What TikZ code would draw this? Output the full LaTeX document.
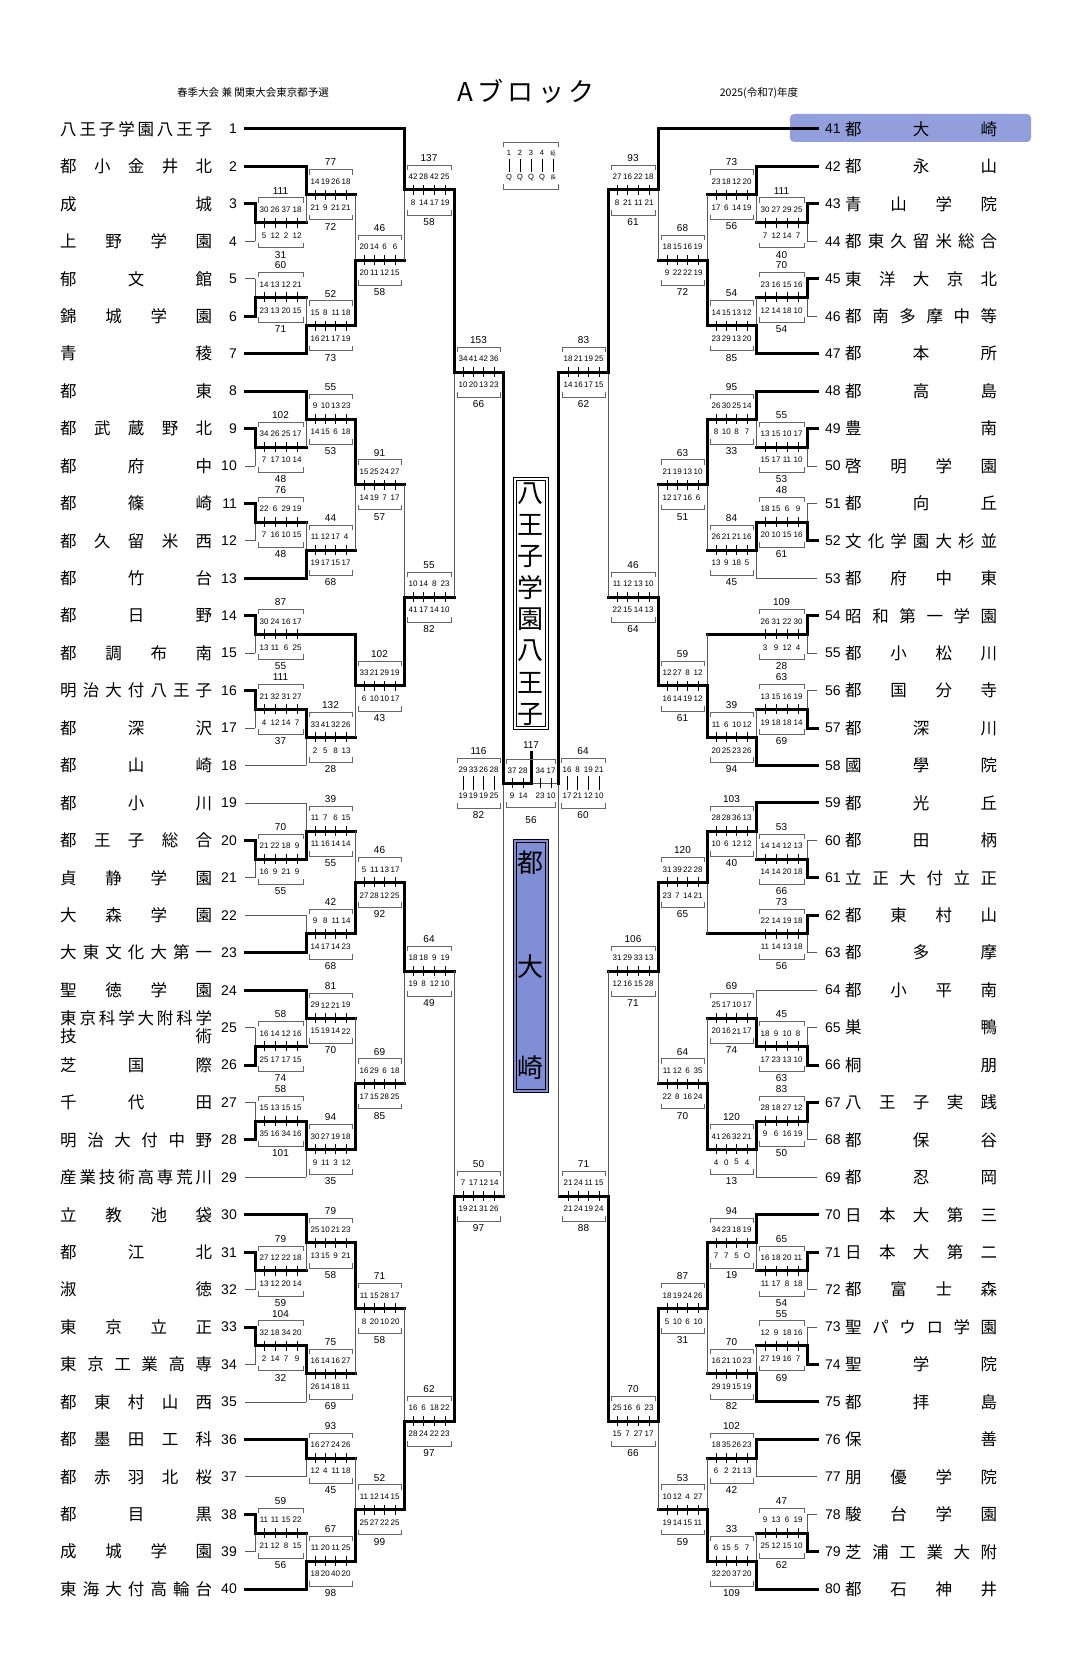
\documentclass[tikz,border=0pt]{standalone}
\usepackage{fontspec}
\setmainfont{Liberation Sans}
\newfontfamily\jp{Noto Sans CJK JP}
\usetikzlibrary{positioning}

\definecolor{hlblue}{RGB}{128,142,214}

% column offsets from the centre line
\def\dx#1{\ifcase#1\or276\or225\or176\or127\or77\or28\or0\fi}
% spread the characters of a name over its box
\def\spreadname#1{\if\relax\detokenize{#1}\relax\else\sprA#1\sprEnd\fi}
\def\sprA#1#2\sprEnd{#1\ifx\relax#2\relax\else\hfil\sprA#2\sprEnd\fi}
% inning figures: single figures larger
\def\inn#1{\innA#1\relax\relax\innEnd}
\def\innA#1#2#3\innEnd{\ifx\relax#2{\fontsize{8}{8}\selectfont#1}\else{\fontsize{4.8}{4.8}\selectfont#1#2}\fi}

% match: name, side, round, next round, upper, lower, mid
\newcommand\mt[7]{%
  \def\mS{#2}\def\mR{#3}\def\mRn{#4}%
  \edef\mYa{\csname y#5\endcsname}\edef\mYb{\csname y#6\endcsname}%
  \if\relax\detokenize{#7}\relax\pgfmathsetmacro\mYm{(\mYa+\mYb)/2}\else\def\mYm{#7}\fi
  \expandafter\xdef\csname y#1\endcsname{\mYm}}
% scores: totals and innings
\newcommand\scr[4]{%
  \pgfmathtruncatemacro\mRb{\mR+1}%
  \pgfmathsetmacro\xa{531-(\mS)*(\dx{\mR})}%
  \pgfmathsetmacro\xn{531-(\mS)*(\dx{\mRn})}%
  \pgfmathsetmacro\xb{531-(\mS)*(\dx{\mRb})}%
  \ifnum#1>#2 \let\yw\mYa\else\let\yw\mYb\fi
  \draw[lose] (\xa,\mYa) -- (\xa,\mYb);
  \draw[win] (\xa,\yw) -- (\xa,\mYm) -- (\xn,\mYm);
  \scorebox{#1}{#2}{#3}{#4}{1}}
\newcommand\scorebox[5]{%
  \pgfmathsetmacro\cx{(\xa+\xb)/2}%
  \pgfmathsetmacro\hw{abs(\xb-\xa)/2-3}%
  \pgfmathsetmacro\isp{(2*\hw-12)/3}%
  \draw[brk] (\cx-\hw,\mYm-20) -- (\cx-\hw,\mYm-25) -- (\cx+\hw,\mYm-25) -- (\cx+\hw,\mYm-20);
  \draw[brk] (\cx-\hw,\mYm+20) -- (\cx-\hw,\mYm+25) -- (\cx+\hw,\mYm+25) -- (\cx+\hw,\mYm+20);
  \node[tot] at (\cx,\mYm-32) {#1};
  \node[tot] at (\cx,\mYm+32) {#2};
  \foreach \v [count=\k] in {#3} {
    \pgfmathsetmacro\ix{\cx+(\k-2.5)*\isp}
    \node[inn] at (\ix,\mYm-13) {\inn{\v}};
    \ifnum#5=1 \draw[tk] (\ix,\mYm-5) -- (\ix,\mYm+5);
    \else \draw[tk] (\ix,\mYm-7) -- (\ix,\mYm+7); \fi}
  \foreach \v [count=\k] in {#4} {
    \pgfmathsetmacro\ix{\cx+(\k-2.5)*\isp}
    \node[inn] at (\ix,\mYm+13) {\inn{\v}};}}
% team: side, number, round, style, name
\newcommand\tm[5]{%
  \pgfmathsetmacro\xa{531-(#1)*(\dx{#3})}%
  \pgfmathsetmacro\xe{531-(#1)*286}%
  \edef\ty{\csname yt#2\endcsname}%
  \draw[#4] (\xe,\ty) -- (\xa,\ty);
  \ifnum#1=1
    \node[num, anchor=east] at (237,\ty) {#2};
    \node[name, anchor=west] at (60,\ty) {\makebox[152pt][s]{\spreadname{#5}}};
  \else
    \node[num, anchor=west] at (825,\ty) {#2};
    \node[name, anchor=west] at (845,\ty) {\makebox[152pt][s]{\spreadname{#5}}};
  \fi}

\begin{document}
\begin{tikzpicture}[x=1pt, y=-1pt,
  win/.style={line width=3pt, line cap=rect},
  lose/.style={line width=0.8pt, draw=black!65},
  brk/.style={line width=0.7pt, draw=black!60},
  tk/.style={line width=0.8pt},
  tot/.style={font=\fontsize{10}{10}\selectfont, inner sep=0},
  inn/.style={inner sep=0},
  num/.style={font=\fontsize{14}{14}\selectfont, inner sep=0},
  name/.style={font=\jp\fontsize{16.5}{16.5}\selectfont, inner sep=0}
]
\useasboundingbox (0,0) rectangle (1083,1677);

% row positions
\foreach \i in {1,...,40} {
  \pgfmathsetmacro\tmp{129+37.44*(\i-1)}
  \expandafter\xdef\csname yt\i\endcsname{\tmp}
  \pgfmathtruncatemacro\j{\i+40}
  \expandafter\xdef\csname yt\j\endcsname{\tmp}}

% header
\node[font=\jp\fontsize{10.5}{10.5}\selectfont] at (253,93) {春季大会\ 兼\ 関東大会東京都予選};
\node[font=\jp\fontsize{26}{26}\selectfont] at (526,91) {A\,ブ\,ロ\,ッ\,ク};
\node[font=\jp\fontsize{10.5}{10.5}\selectfont] at (759,93) {2025(令和7)年度};

% legend
\draw[brk] (503,147) -- (503,142) -- (558,142) -- (558,147);
\draw[brk] (503,184) -- (503,189) -- (558,189) -- (558,184);
\foreach \lx/\lt/\lb in {509/1/Q, 520/2/Q, 531/3/Q, 542/4/Q} {
  \node[font=\fontsize{7.5}{7.5}\selectfont, inner sep=0] at (\lx,153) {\lt};
  \draw[tk] (\lx,159) -- (\lx,172);
  \node[font=\fontsize{7.5}{7.5}\selectfont, inner sep=0] at (\lx,178) {\lb};}
\node[font=\jp\fontsize{5.5}{5.5}\selectfont, inner sep=0] at (553,153) {延};
\draw[tk] (553,159) -- (553,172);
\node[font=\jp\fontsize{5.5}{5.5}\selectfont, inner sep=0] at (553,178) {長};

% highlight of 41
\fill[hlblue, rounded corners=4pt, opacity=0.85] (790,114) rectangle (1031,142);

% left side teams
\tm{1}{1}{4}{win}{八王子学園八王子}
\tm{1}{2}{2}{win}{都小金井北}
\tm{1}{3}{1}{win}{成城}
\tm{1}{4}{1}{lose}{上野学園}
\tm{1}{5}{1}{lose}{郁文館}
\tm{1}{6}{1}{win}{錦城学園}
\tm{1}{7}{2}{win}{青稜}
\tm{1}{8}{2}{win}{都東}
\tm{1}{9}{1}{win}{都武蔵野北}
\tm{1}{10}{1}{lose}{都府中}
\tm{1}{11}{1}{win}{都篠崎}
\tm{1}{12}{1}{lose}{都久留米西}
\tm{1}{13}{2}{win}{都竹台}
\tm{1}{14}{1}{win}{都日野}
\tm{1}{15}{1}{lose}{都調布南}
\tm{1}{16}{1}{win}{明治大付八王子}
\tm{1}{17}{1}{lose}{都深沢}
\tm{1}{18}{2}{lose}{都山崎}
\tm{1}{19}{2}{lose}{都小川}
\tm{1}{20}{1}{win}{都王子総合}
\tm{1}{21}{1}{lose}{貞静学園}
\tm{1}{22}{2}{lose}{大森学園}
\tm{1}{23}{2}{win}{大東文化大第一}
\tm{1}{24}{2}{win}{聖徳学園}
\tm{1}{25}{1}{lose}{}
\tm{1}{26}{1}{win}{芝国際}
\tm{1}{27}{1}{lose}{千代田}
\tm{1}{28}{1}{win}{明治大付中野}
\tm{1}{29}{2}{lose}{産業技術高専荒川}
\tm{1}{30}{2}{win}{立教池袋}
\tm{1}{31}{1}{win}{都江北}
\tm{1}{32}{1}{lose}{淑徳}
\tm{1}{33}{1}{win}{東京立正}
\tm{1}{34}{1}{lose}{東京工業高専}
\tm{1}{35}{2}{lose}{都東村山西}
\tm{1}{36}{2}{win}{都墨田工科}
\tm{1}{37}{2}{lose}{都赤羽北桜}
\tm{1}{38}{1}{win}{都目黒}
\tm{1}{39}{1}{lose}{成城学園}
\tm{1}{40}{2}{win}{東海大付高輪台}
\node[name, anchor=west] at (60,\csname yt25\endcsname-9) {\makebox[152pt][s]{\spreadname{東京科学大附科学}}};
\node[name, anchor=west] at (60,\csname yt25\endcsname+9) {\makebox[152pt][s]{\spreadname{技術}}};

% right side teams
\tm{-1}{41}{4}{win}{都大崎}
\tm{-1}{42}{2}{win}{都永山}
\tm{-1}{43}{1}{win}{青山学院}
\tm{-1}{44}{1}{lose}{都東久留米総合}
\tm{-1}{45}{1}{win}{東洋大京北}
\tm{-1}{46}{1}{lose}{都南多摩中等}
\tm{-1}{47}{2}{win}{都本所}
\tm{-1}{48}{2}{win}{都高島}
\tm{-1}{49}{1}{win}{豊南}
\tm{-1}{50}{1}{lose}{啓明学園}
\tm{-1}{51}{1}{lose}{都向丘}
\tm{-1}{52}{1}{win}{文化学園大杉並}
\tm{-1}{53}{2}{lose}{都府中東}
\tm{-1}{54}{1}{win}{昭和第一学園}
\tm{-1}{55}{1}{lose}{都小松川}
\tm{-1}{56}{1}{lose}{都国分寺}
\tm{-1}{57}{1}{win}{都深川}
\tm{-1}{58}{2}{win}{國學院}
\tm{-1}{59}{2}{win}{都光丘}
\tm{-1}{60}{1}{lose}{都田柄}
\tm{-1}{61}{1}{win}{立正大付立正}
\tm{-1}{62}{1}{win}{都東村山}
\tm{-1}{63}{1}{lose}{都多摩}
\tm{-1}{64}{2}{lose}{都小平南}
\tm{-1}{65}{1}{lose}{巣鴨}
\tm{-1}{66}{1}{win}{桐朋}
\tm{-1}{67}{1}{win}{八王子実践}
\tm{-1}{68}{1}{lose}{都保谷}
\tm{-1}{69}{2}{lose}{都忍岡}
\tm{-1}{70}{2}{win}{日本大第三}
\tm{-1}{71}{1}{win}{日本大第二}
\tm{-1}{72}{1}{lose}{都富士森}
\tm{-1}{73}{1}{lose}{聖パウロ学園}
\tm{-1}{74}{1}{win}{聖学院}
\tm{-1}{75}{2}{win}{都拝島}
\tm{-1}{76}{2}{win}{保善}
\tm{-1}{77}{2}{lose}{朋優学院}
\tm{-1}{78}{1}{lose}{駿台学園}
\tm{-1}{79}{1}{win}{芝浦工業大附}
\tm{-1}{80}{2}{win}{都石神井}

% left side matches
\mt{m1}{1}{1}{2}{t3}{t4}{}\scr{111}{31}{30,26,37,18}{5,12,2,12}
\mt{m2}{1}{2}{3}{t2}{m1}{}\scr{77}{72}{14,19,26,18}{21,9,21,21}
\mt{m3}{1}{1}{2}{t5}{t6}{}\scr{60}{71}{14,13,12,21}{23,13,20,15}
\mt{m4}{1}{2}{3}{m3}{t7}{}\scr{52}{73}{15,8,11,18}{16,21,17,19}
\mt{m5}{1}{3}{4}{m2}{m4}{}\scr{46}{58}{20,14,6,6}{20,11,12,15}
\mt{m6}{1}{4}{5}{t1}{m5}{190}\scr{137}{58}{42,28,42,25}{8,14,17,19}
\mt{m7}{1}{1}{2}{t9}{t10}{}\scr{102}{48}{34,26,25,17}{7,17,10,14}
\mt{m8}{1}{2}{3}{t8}{m7}{}\scr{55}{53}{9,10,13,23}{14,15,6,18}
\mt{m9}{1}{1}{2}{t11}{t12}{}\scr{76}{48}{22,6,29,19}{7,16,10,15}
\mt{m10}{1}{2}{3}{m9}{t13}{}\scr{44}{68}{11,12,17,4}{19,17,15,17}
\mt{m11}{1}{3}{4}{m8}{m10}{}\scr{91}{57}{15,25,24,27}{14,19,7,17}
\mt{m12}{1}{1}{3}{t14}{t15}{}\scr{87}{55}{30,24,16,17}{13,11,6,25}
\mt{m13}{1}{1}{2}{t16}{t17}{}\scr{111}{37}{21,32,31,27}{4,12,14,7}
\mt{m14}{1}{2}{3}{m13}{t18}{}\scr{132}{28}{33,41,32,26}{2,5,8,13}
\mt{m15}{1}{3}{4}{m12}{m14}{}\scr{102}{43}{33,21,29,19}{6,10,10,17}
\mt{m16}{1}{4}{5}{m11}{m15}{597}\scr{55}{82}{10,14,8,23}{41,17,14,10}
\mt{m17}{1}{5}{6}{m6}{m16}{372}\scr{153}{66}{34,41,42,36}{10,20,13,23}
\mt{m18}{1}{1}{2}{t20}{t21}{}\scr{70}{55}{21,22,18,9}{16,9,21,9}
\mt{m19}{1}{2}{3}{t19}{m18}{}\scr{39}{55}{11,7,6,15}{11,16,14,14}
\mt{m20}{1}{2}{3}{t22}{t23}{}\scr{42}{68}{9,8,11,14}{14,17,14,23}
\mt{m21}{1}{3}{4}{m19}{m20}{}\scr{46}{92}{5,11,13,17}{27,28,12,25}
\mt{m23}{1}{1}{2}{t25}{t26}{}\scr{58}{74}{16,14,12,16}{25,17,17,15}
\mt{m22}{1}{2}{3}{t24}{m23}{}\scr{81}{70}{29,12,21,19}{15,19,14,22}
\mt{m24}{1}{1}{2}{t27}{t28}{}\scr{58}{101}{15,13,15,15}{35,16,34,16}
\mt{m25}{1}{2}{3}{m24}{t29}{}\scr{94}{35}{30,27,19,18}{9,11,3,12}
\mt{m26}{1}{3}{4}{m22}{m25}{}\scr{69}{85}{16,29,6,18}{17,15,28,25}
\mt{m27}{1}{4}{5}{m21}{m26}{971}\scr{64}{49}{18,18,9,19}{19,8,12,10}
\mt{m28}{1}{1}{2}{t31}{t32}{}\scr{79}{59}{27,12,22,18}{13,12,20,14}
\mt{m29}{1}{2}{3}{t30}{m28}{}\scr{79}{58}{25,10,21,23}{13,15,9,21}
\mt{m30}{1}{1}{2}{t33}{t34}{}\scr{104}{32}{32,18,34,20}{2,14,7,9}
\mt{m31}{1}{2}{3}{m30}{t35}{}\scr{75}{69}{16,14,16,27}{26,14,18,11}
\mt{m32}{1}{3}{4}{m29}{m31}{}\scr{71}{58}{11,15,28,17}{8,20,10,20}
\mt{m33}{1}{2}{3}{t36}{t37}{}\scr{93}{45}{16,27,24,26}{12,4,11,18}
\mt{m34}{1}{1}{2}{t38}{t39}{}\scr{59}{56}{11,11,15,22}{21,12,8,15}
\mt{m35}{1}{2}{3}{m34}{t40}{}\scr{67}{98}{11,20,11,25}{18,20,40,20}
\mt{m36}{1}{3}{4}{m33}{m35}{}\scr{52}{99}{11,12,14,15}{25,27,22,25}
\mt{m37}{1}{4}{5}{m32}{m36}{1421}\scr{62}{97}{16,6,18,22}{28,24,22,23}
\mt{m38}{1}{5}{6}{m27}{m37}{1196}\scr{50}{97}{7,17,12,14}{19,21,31,26}

% right side matches
\mt{n1}{-1}{1}{2}{t43}{t44}{}\scr{111}{40}{30,27,29,25}{7,12,14,7}
\mt{n2}{-1}{2}{3}{t42}{n1}{}\scr{73}{56}{23,18,12,20}{17,6,14,19}
\mt{n3}{-1}{1}{2}{t45}{t46}{}\scr{70}{54}{23,16,15,16}{12,14,18,10}
\mt{n4}{-1}{2}{3}{n3}{t47}{}\scr{54}{85}{14,15,13,12}{23,29,13,20}
\mt{n5}{-1}{3}{4}{n2}{n4}{}\scr{68}{72}{18,15,16,19}{9,22,22,19}
\mt{n6}{-1}{4}{5}{t41}{n5}{190}\scr{93}{61}{27,16,22,18}{8,21,11,21}
\mt{n7}{-1}{1}{2}{t49}{t50}{}\scr{55}{53}{13,15,10,17}{15,17,11,10}
\mt{n8}{-1}{2}{3}{t48}{n7}{}\scr{95}{33}{26,30,25,14}{8,10,8,7}
\mt{n9}{-1}{1}{2}{t51}{t52}{}\scr{48}{61}{18,15,6,9}{20,10,15,16}
\mt{n10}{-1}{2}{3}{n9}{t53}{}\scr{84}{45}{26,21,21,16}{13,9,18,5}
\mt{n11}{-1}{3}{4}{n8}{n10}{}\scr{63}{51}{21,19,13,10}{12,17,16,6}
\mt{n12}{-1}{1}{3}{t54}{t55}{}\scr{109}{28}{26,31,22,30}{3,9,12,4}
\mt{n13}{-1}{1}{2}{t56}{t57}{}\scr{63}{69}{13,15,16,19}{19,18,18,14}
\mt{n14}{-1}{2}{3}{n13}{t58}{}\scr{39}{94}{11,6,10,12}{20,25,23,26}
\mt{n15}{-1}{3}{4}{n12}{n14}{}\scr{59}{61}{12,27,8,12}{16,14,19,12}
\mt{n16}{-1}{4}{5}{n11}{n15}{597}\scr{46}{64}{11,12,13,10}{22,15,14,13}
\mt{n17}{-1}{5}{6}{n6}{n16}{372}\scr{83}{62}{18,21,19,25}{14,16,17,15}
\mt{n18}{-1}{1}{2}{t60}{t61}{}\scr{53}{66}{14,14,12,13}{14,14,20,18}
\mt{n19}{-1}{2}{3}{t59}{n18}{}\scr{103}{40}{28,28,36,13}{10,6,12,12}
\mt{n20}{-1}{1}{3}{t62}{t63}{}\scr{73}{56}{22,14,19,18}{11,14,13,18}
\mt{n21}{-1}{3}{4}{n19}{n20}{}\scr{120}{65}{31,39,22,28}{23,7,14,21}
\mt{n22}{-1}{1}{2}{t65}{t66}{}\scr{45}{63}{18,9,10,8}{17,23,13,10}
\mt{n23}{-1}{2}{3}{t64}{n22}{}\scr{69}{74}{25,17,10,17}{20,16,21,17}
\mt{n24}{-1}{1}{2}{t67}{t68}{}\scr{83}{50}{28,18,27,12}{9,6,16,19}
\mt{n25}{-1}{2}{3}{n24}{t69}{}\scr{120}{13}{41,26,32,21}{4,0,5,4}
\mt{n26}{-1}{3}{4}{n23}{n25}{}\scr{64}{70}{11,12,6,35}{22,8,16,24}
\mt{n27}{-1}{4}{5}{n21}{n26}{971}\scr{106}{71}{31,29,33,13}{12,16,15,28}
\mt{n28}{-1}{1}{2}{t71}{t72}{}\scr{65}{54}{16,18,20,11}{11,17,8,18}
\mt{n29}{-1}{2}{3}{t70}{n28}{}\scr{94}{19}{34,23,18,19}{7,7,5,O}
\mt{n30}{-1}{1}{2}{t73}{t74}{}\scr{55}{69}{12,9,18,16}{27,19,16,7}
\mt{n31}{-1}{2}{3}{n30}{t75}{}\scr{70}{82}{16,21,10,23}{29,19,15,19}
\mt{n32}{-1}{3}{4}{n29}{n31}{}\scr{87}{31}{18,19,24,26}{5,10,6,10}
\mt{n33}{-1}{2}{3}{t76}{t77}{}\scr{102}{42}{18,35,26,23}{6,2,21,13}
\mt{n34}{-1}{1}{2}{t78}{t79}{}\scr{47}{62}{9,13,6,19}{25,12,15,10}
\mt{n35}{-1}{2}{3}{n34}{t80}{}\scr{33}{109}{6,15,5,7}{32,20,37,20}
\mt{n36}{-1}{3}{4}{n33}{n35}{}\scr{53}{59}{10,12,4,27}{19,14,15,11}
\mt{n37}{-1}{4}{5}{n32}{n36}{1421}\scr{70}{66}{25,16,6,23}{15,7,27,17}
\mt{n38}{-1}{5}{6}{n27}{n37}{1196}\scr{71}{88}{21,24,11,15}{21,24,19,24}

% semi-finals
\draw[lose] (503,372) -- (503,1196);
\draw[win] (503,372) -- (503,783) -- (531,783);
\draw[lose] (558,372) -- (558,1196);
\draw[lose] (558,783) -- (531,783);
\draw[win] (558,372) -- (558,783);
\def\mYm{783}
\def\xa{454}\def\xb{503}
\scorebox{116}{82}{29,33,26,28}{19,19,19,25}{0}
\def\xa{608}\def\xb{558}
\scorebox{64}{60}{16,8,19,21}{17,21,12,10}{0}

% final
\draw[win] (531,783) -- (531,752);
\draw[brk] (506,764) -- (506,759) -- (555,759) -- (555,764);
\draw[brk] (506,802) -- (506,807) -- (555,807) -- (555,802);
\node[tot] at (531,745) {117};
\node[tot] at (531,820) {56};
\foreach \fx/\ft/\fb in {512/37/9, 523/28/14, 540/34/23, 551/17/10} {
  \node[inn] at (\fx,771) {\inn{\ft}};
  \node[inn] at (\fx,796) {\inn{\fb}};
  \draw[tk] (\fx,778) -- (\fx,788);}

% champion and runner-up
\draw[line width=0.8pt] (513,477) rectangle (548,729);
\draw[line width=0.6pt] (516,480) rectangle (545,726);
\foreach \c [count=\k] in {八,王,子,学,園,八,王,子}
  \node[font=\jp\fontsize{26}{26}\selectfont, inner sep=0] at (530.5,{462+31.5*\k}) {\c};
\fill[hlblue] (513,839) rectangle (548,1092);
\draw[line width=0.8pt] (513,839) rectangle (548,1092);
\draw[line width=0.6pt] (516,842) rectangle (545,1089);
\foreach \c/\cy in {都/863, 大/967, 崎/1068}
  \node[font=\jp\fontsize{26}{26}\selectfont, inner sep=0] at (530.5,\cy) {\c};

\end{tikzpicture}
\end{document}
